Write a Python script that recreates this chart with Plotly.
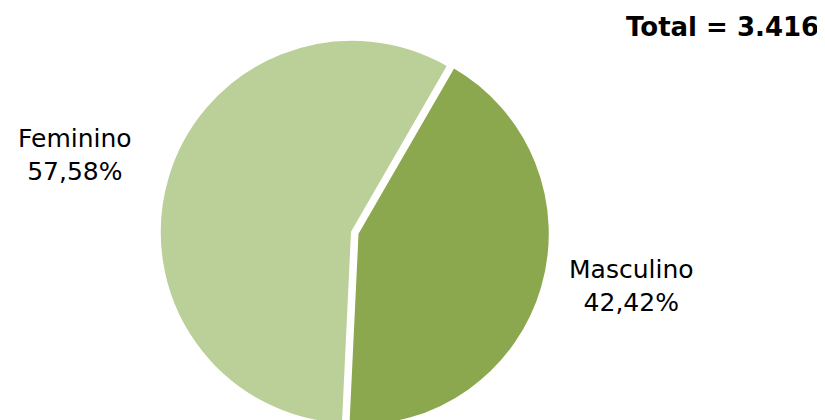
import plotly.graph_objects as go

# data
labels = ['Masculino', 'Feminino']
shares = [42.42, 57.58]
colors = ['#8BA84F', '#BBCF98']
total = '3.416'

# the page body has an 8px margin, so figure px = reference px - 8
OFF = 8
W, H = 825, 448  # taller than the window so the pie runs off the bottom edge


def px(x, y):
    return (x - OFF) / W, 1 - (y - OFF) / H


cx, half = 352 - OFF, 198
fig = go.Figure()
fig.add_trace(go.Pie(labels=labels, values=shares, sort=False, direction='clockwise',
                     rotation=30, pull=[0.03, 0], textinfo='none', hoverinfo='label+percent',
                     marker=dict(colors=colors, line=dict(color='white', width=2)),
                     domain=dict(x=[(cx - half) / W, (cx + half) / W], y=[0, 1])))

# slice labels, placed outside like the original
label_pos = {'Feminino': (75, 155), 'Masculino': (631, 286)}
for lab, val in zip(labels, shares):
    x, y = px(*label_pos[lab])
    txt = lab + '<br>' + f'{val:.2f}'.replace('.', ',') + '%'
    fig.add_annotation(text=txt, x=x, y=y, xref='paper', yref='paper',
                       xanchor='center', yanchor='middle',
                       showarrow=False, align='center', font=dict(size=25, color='black'))

tx, ty = px(821, 27)
fig.add_annotation(text='<b>Total = ' + total + '</b>', x=tx, y=ty,
                   xref='paper', yref='paper', xanchor='right', yanchor='middle',
                   showarrow=False, font=dict(size=26, color='black'))

fig.update_layout(width=W, height=H, margin=dict(l=0, r=0, t=0, b=0),
                  paper_bgcolor='white', showlegend=False,
                  font=dict(family='DejaVu Sans'))

fig.write_html('out.html')
